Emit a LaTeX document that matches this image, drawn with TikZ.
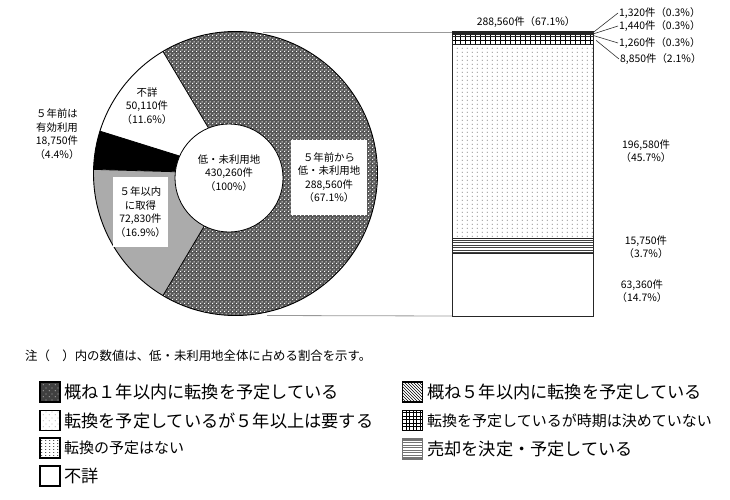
\documentclass[tikz,border=0pt]{standalone}
\usepackage{fontspec}
\setmainfont{Noto Sans CJK JP}
\usetikzlibrary{patterns}
\pgfdeclarepatternformonly{chk}{\pgfqpoint{0pt}{0pt}}{\pgfqpoint{4pt}{4pt}}{\pgfqpoint{4pt}{4pt}}{%
 \pgfpathrectangle{\pgfqpoint{0pt}{0pt}}{\pgfqpoint{1.4pt}{1.4pt}}%
 \pgfpathrectangle{\pgfqpoint{2pt}{2pt}}{\pgfqpoint{1.4pt}{1.4pt}}%
 \pgfusepath{fill}}
\pgfdeclarepatternformonly{dotsA}{\pgfqpoint{0pt}{0pt}}{\pgfqpoint{5.3pt}{4.3pt}}{\pgfqpoint{5.3pt}{4.3pt}}{%
 \pgfpathrectangle{\pgfqpoint{2pt}{1.6pt}}{\pgfqpoint{1pt}{1pt}}\pgfusepath{fill}}
\pgfdeclarepatternformonly{dotsL}{\pgfqpoint{0pt}{0pt}}{\pgfqpoint{4pt}{3.4pt}}{\pgfqpoint{4pt}{3.4pt}}{%
 \pgfpathrectangle{\pgfqpoint{1.5pt}{1.2pt}}{\pgfqpoint{0.9pt}{0.9pt}}\pgfusepath{fill}}
\pgfdeclarepatternformonly{dotsS}{\pgfqpoint{0pt}{0pt}}{\pgfqpoint{6pt}{6pt}}{\pgfqpoint{6pt}{6pt}}{%
 \pgfpathrectangle{\pgfqpoint{1pt}{1pt}}{\pgfqpoint{0.9pt}{0.9pt}}%
 \pgfpathrectangle{\pgfqpoint{4pt}{4pt}}{\pgfqpoint{0.9pt}{0.9pt}}\pgfusepath{fill}}
\pgfdeclarepatternformonly{gridA}{\pgfqpoint{-1pt}{-1pt}}{\pgfqpoint{6pt}{5pt}}{\pgfqpoint{5pt}{4pt}}{%
 \pgfsetlinewidth{0.7pt}%
 \pgfpathmoveto{\pgfqpoint{0pt}{0pt}}\pgfpathlineto{\pgfqpoint{5.1pt}{0pt}}%
 \pgfpathmoveto{\pgfqpoint{0pt}{0pt}}\pgfpathlineto{\pgfqpoint{0pt}{4.1pt}}\pgfusepath{stroke}}
\pgfdeclarepatternformonly{gridB}{\pgfqpoint{-1pt}{-1pt}}{\pgfqpoint{4.5pt}{4.5pt}}{\pgfqpoint{3.5pt}{3.5pt}}{%
 \pgfsetlinewidth{0.6pt}%
 \pgfpathmoveto{\pgfqpoint{0pt}{0pt}}\pgfpathlineto{\pgfqpoint{3.6pt}{0pt}}%
 \pgfpathmoveto{\pgfqpoint{0pt}{0pt}}\pgfpathlineto{\pgfqpoint{0pt}{3.6pt}}\pgfusepath{stroke}}
\pgfdeclarepatternformonly{hl}{\pgfqpoint{0pt}{-0.5pt}}{\pgfqpoint{3pt}{0.5pt}}{\pgfqpoint{3pt}{2.5pt}}{%
 \pgfsetlinewidth{0.6pt}%
 \pgfpathmoveto{\pgfqpoint{0pt}{0pt}}\pgfpathlineto{\pgfqpoint{3pt}{0pt}}\pgfusepath{stroke}}
\begin{document}
\begin{tikzpicture}[x=1pt,y=-1pt,
  lbl/.style={font=\fontsize{10.4}{13.5}\selectfont, align=center, inner sep=0pt, text=black},
  sm/.style={font=\fontsize{10.4}{13.5}\selectfont, inner sep=1pt, text=black},
  seg/.style={draw=black!85, line width=0.6pt},
  lead/.style={draw=black!80, line width=0.6pt},
  guide/.style={draw=black!40, line width=0.8pt},
  legbox/.style={draw=black, line width=1.3pt, minimum size=20pt, inner sep=0pt},
  legtxt/.style={anchor=west, inner sep=0pt, font=\fontsize{17.2}{17.2}\selectfont},
  legtxtn/.style={anchor=west, inner sep=0pt, font=\fontsize{15}{15}\selectfont}]
\useasboundingbox[fill=white] (0,0) rectangle (730,500);

% ---------- donut ----------
\begin{scope}[shift={(235.5,173.5)}, yscale=-1]
  \path[preaction={fill=black!66}, pattern=chk, pattern color=white]
    (0,0) -- (-120.72:142) arc[start angle=-120.72, end angle=120.72, radius=142] -- cycle;
  \fill[white] (0,0) -- (120.72:142) arc[start angle=120.72, end angle=162.65, radius=142] -- cycle;
  \fill[black] (0,0) -- (162.65:142) arc[start angle=162.65, end angle=178.34, radius=142] -- cycle;
  \fill[black!33] (0,0) -- (178.34:142) arc[start angle=178.34, end angle=239.28, radius=142] -- cycle;
  \draw[black, line width=0.8pt] (0,0) -- (120.72:142) (0,0) -- (162.65:142)
       (0,0) -- (178.34:142) (0,0) -- (239.28:142);
  \draw[black, line width=0.9pt] (0,0) circle[radius=142];
\end{scope}
\node[circle, fill=white, draw=black, line width=0.8pt, minimum size=108pt, inner sep=0pt] (hole) at (229,178) {};
\node[lbl] (ctrtxt) at (229,173) {低・未利用地\\430,260件\\（100\%）};
\node[lbl, fill=white, minimum width=76pt, minimum height=75pt] (big) at (329,177.5)
  {５年前から\\低・未利用地\\288,560件\\（67.1\%）};
\node[lbl, fill=white, minimum width=55pt, minimum height=70pt] (acq) at (140.5,212)
  {５年以内\\に取得\\72,830件\\（16.9\%）};
\node[lbl] (unk) at (147,106) {不詳\\50,110件\\（11.6\%）};
\node[lbl] (eff) at (57,134) {５年前は\\有効利用\\18,750件\\（4.4\%）};

% ---------- bar ----------
\coordinate (bartl) at (452,32);
\coordinate (barbl) at (452,316);
\coordinate (dt) at (263,32);
\coordinate (db) at (267,315.5);
\draw[guide] (dt) -- (bartl);
\draw[guide] (db) -- (barbl);

\path[seg, preaction={fill=black!75}, pattern=dotsS, pattern color=white] (452,32) rectangle (593,33.3);
\path[seg, pattern=north west lines] (452,33.3) rectangle (593,34.72);
\path[seg, pattern=dotsS, pattern color=black!50] (452,34.72) rectangle (593,35.96);
\path[seg, pattern=gridA] (452,35.96) rectangle (593,44.67);
\path[seg, pattern=dotsA, pattern color=black!75] (452,44.67) rectangle (593,238.14);
\path[seg, pattern=hl, pattern color=black!75] (452,238.14) rectangle (593,253.64);
\path[seg, fill=white] (452,253.64) rectangle (593,316);
\draw[black!85, line width=1pt] (452,32) rectangle (593,316);

\coordinate (s1) at (593,32.6);
\coordinate (s2) at (593,34.0);
\coordinate (s3) at (593,35.4);
\coordinate (s4) at (596,40.3);

\node[sm] (bartop) at (526,22.5) {288,560件（67.1\%）};
\node[sm, anchor=west] (l1) at (618,13) {1,320件（0.3\%）};
\node[sm, anchor=west] (l2) at (618,26) {1,440件（0.3\%）};
\node[sm, anchor=west] (l3) at (618,43) {1,260件（0.3\%）};
\node[sm, anchor=west] (l4) at (619,59) {8,850件（2.1\%）};
\draw[lead] (s1) -- (l1.west);
\draw[lead] (s2) -- (l2.west);
\draw[lead] (s3) -- (l3.west);
\draw[lead] (s4) -- (l4.west);
\node[lbl] (r1) at (646,151) {196,580件\\（45.7\%）};
\node[lbl] (r2) at (646,247) {15,750件\\（3.7\%）};
\node[lbl] (r3) at (642,291) {63,360件\\（14.7\%）};

% ---------- note ----------
\node[anchor=west, inner sep=0pt, font=\fontsize{12.4}{12.4}\selectfont] (note) at (25,356)
  {注（　）内の数値は、低・未利用地全体に占める割合を示す。};

% ---------- legend ----------
\node[legbox, preaction={fill=black!75}, pattern=dotsS, pattern color=white] (k1) at (50,392) {};
\node[legtxt] (t1) at (64,392) {概ね１年以内に転換を予定している};
\node[legbox, pattern=dotsS, pattern color=black!45] (k2) at (50,420.5) {};
\node[legtxt] (t2) at (64,420.5) {転換を予定しているが５年以上は要する};
\node[legbox, pattern=dotsL] (k3) at (50,448) {};
\node[legtxtn] (t3) at (64,448) {転換の予定はない};
\node[legbox, fill=white] (k4) at (50,476) {};
\node[legtxt] (t4) at (64,476) {不詳};

\node[legbox, pattern=north west lines] (k5) at (412.5,392) {};
\node[legtxt] (t5) at (427,392) {概ね５年以内に転換を予定している};
\node[legbox, pattern=gridB] (k6) at (412.5,420.5) {};
\node[legtxtn] (t6) at (427,420.5) {転換を予定しているが時期は決めていない};
\node[legbox, draw=black!55, pattern=hl, pattern color=black!55] (k7) at (412.5,449) {};
\node[legtxt] (t7) at (427,449) {売却を決定・予定している};
\end{tikzpicture}
\end{document}
